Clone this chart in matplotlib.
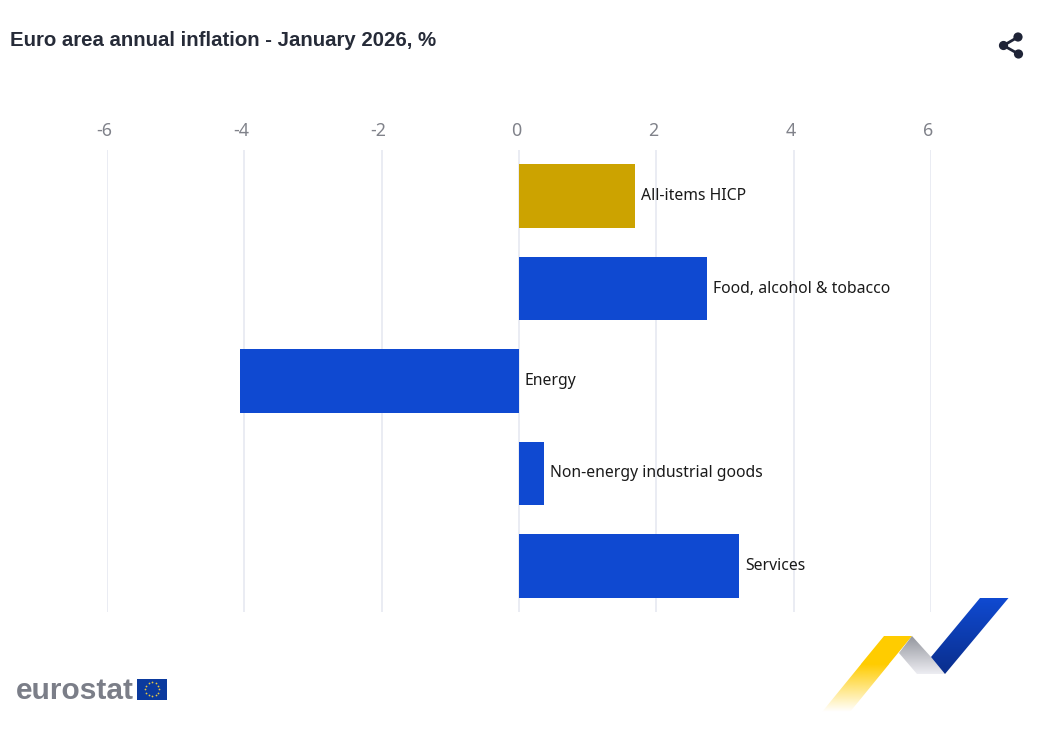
import numpy as np
import matplotlib
matplotlib.use("Agg")
import matplotlib.pyplot as plt
from matplotlib.patches import Polygon, Circle, Rectangle

categories = ["All-items HICP", "Food, alcohol & tobacco", "Energy",
              "Non-energy industrial goods", "Services"]
values = [1.69, 2.74, -4.06, 0.36, 3.21]
bar_colors = ["#CCA300", "#0F49D1", "#0F49D1", "#0F49D1", "#0F49D1"]
ticks = [-6, -4, -2, 0, 2, 4, 6]
title = "Euro area annual inflation - January 2026, %"

W, H = 1037, 745
fig = plt.figure(figsize=(W / 100, H / 100), dpi=100, facecolor="white")

# page-level layer in pixel coordinates for logos and icons
bg = fig.add_axes([0, 0, 1, 1], zorder=0)
bg.set_xlim(0, W)
bg.set_ylim(H, 0)
bg.axis("off")

# chart
L, R, T, B = 107, 931, 150, 612
ax = fig.add_axes([L / W, 1 - B / H, (R - L) / W, (B - T) / H], zorder=1)
ax.patch.set_alpha(0)
y = np.arange(len(categories))
ax.set_xlim(ticks[0], ticks[-1])
ax.set_ylim(len(categories) - 0.5, -0.5)
ax.set_axisbelow(True)
ax.grid(axis="x", color="#E8EAF2", lw=1.3)
ax.grid(axis="y", visible=False)
for s in ax.spines.values():
    s.set_visible(False)
ax.barh(y, values, height=0.69, color=bar_colors, edgecolor="none", zorder=2)
ax.set_yticks([])
ax.set_xticks(ticks)
ax.xaxis.tick_top()
ax.tick_params(axis="x", length=0, pad=0, labelsize=1, labelcolor="white")
ax.set_xticklabels([])
for t in ticks:
    ax.annotate(str(t), (t, 1), xycoords=("data", "axes fraction"),
                xytext=(-3, 19), textcoords="offset pixels", ha="center", va="center",
                fontsize=12.8, color="#80828A", family="Noto Sans")
for yi, v, c in zip(y, values, categories):
    ax.annotate(c, (max(v, 0), yi), xytext=(6, 0), textcoords="offset pixels",
                ha="left", va="center", fontsize=11.35, color="#1A1A1A",
                family="Noto Sans", annotation_clip=False)

# title
bg.text(10.5, 41, title, fontsize=14.67, fontweight="bold", color="#262B38",
        family="Liberation Sans", ha="left", va="center")

# share icon
nodes = [(1018, 37), (1003.5, 45.5), (1018.5, 54)]
for a in (nodes[0], nodes[2]):
    bg.plot([nodes[1][0], a[0]], [nodes[1][1], a[1]], color="#1F2437", lw=2, solid_capstyle="round")
for n in nodes:
    bg.add_patch(Circle(n, 4.6, color="#1F2437", lw=0))

# eurostat wordmark and flag
bg.text(15.5, 699, "eurostat", fontsize=21.5, fontweight="bold", color="#7B7E88",
        family="Liberation Sans", ha="left", va="baseline")
bg.add_patch(Rectangle((137, 679), 30, 20.5, color="#0B3A9E", lw=0))
a = np.arange(12) * np.pi / 6
bg.scatter(152 + 7 * np.cos(a), 689.2 + 7 * np.sin(a), s=1.6, color="#E8C840", lw=0)


def grad_poly(pts, top, bottom, y0, y1):
    poly = Polygon(pts, closed=True, transform=bg.transData, fc="none", ec="none")
    bg.add_patch(poly)
    c0, c1 = np.array(top), np.array(bottom)
    t = np.linspace(0, 1, 128)[:, None, None]
    img = (c0[None, None, :] * (1 - t) + c1[None, None, :] * t)
    xs = [p[0] for p in pts]
    im = bg.imshow(img, extent=[min(xs), max(xs), y1, y0], aspect="auto",
                   interpolation="bilinear", zorder=1)
    im.set_clip_path(poly)


# decorative ribbon
grad_poly([(884, 636), (912, 636), (850, 712), (822, 712)],
          (1.0, 0.80, 0.0, 1.0), (1.0, 0.80, 0.0, 0.0), 664, 712)
bg.fill([884, 912, 889, 861], [636, 636, 664, 664], color="#FFCC00", lw=0, zorder=1)
grad_poly([(912, 636), (931, 657), (945, 674), (917, 674), (899, 653)],
          (0.58, 0.59, 0.62, 1), (0.93, 0.93, 0.95, 1), 636, 674)
grad_poly([(980, 598), (1008.5, 598), (945, 674), (931, 657)],
          (0.06, 0.29, 0.82, 1), (0.04, 0.18, 0.55, 1), 598, 674)
bg.set_xlim(0, W)
bg.set_ylim(H, 0)

fig.savefig("out.png", dpi=100, facecolor="white")
